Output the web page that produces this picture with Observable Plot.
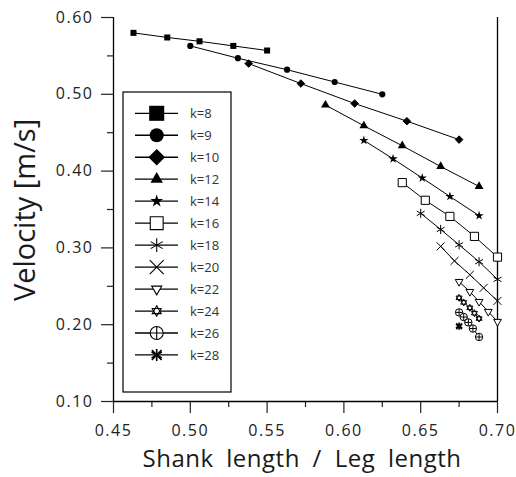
<!DOCTYPE html>
<html><head><meta charset="utf-8">
<script src="https://cdn.jsdelivr.net/npm/d3@7"></script>
<script src="https://cdn.jsdelivr.net/npm/@observablehq/plot@0.6"></script>
<style>
body{margin:0;background:#fff;}
#chart{width:516px;height:477px;}
svg text{font-family:"Open Sans",sans-serif;}
g[aria-label="x-axis tick label"] text, g[aria-label="y-axis tick label"] text{letter-spacing:1.5px;}
</style></head><body><div id="chart"></div>
<script>
// ---- data ----
const k8x  = [0.463, 0.485, 0.506, 0.528, 0.550];
const k8y  = [0.580, 0.574, 0.569, 0.563, 0.557];
const k9x  = [0.500, 0.531, 0.563, 0.594, 0.625];
const k9y  = [0.563, 0.547, 0.532, 0.516, 0.500];
const k10x = [0.538, 0.572, 0.607, 0.641, 0.675];
const k10y = [0.540, 0.514, 0.488, 0.465, 0.441];
const k12x = [0.588, 0.613, 0.638, 0.663, 0.688];
const k12y = [0.486, 0.459, 0.433, 0.406, 0.380];
const k14x = [0.613, 0.632, 0.651, 0.669, 0.688];
const k14y = [0.440, 0.416, 0.391, 0.367, 0.342];
const k16x = [0.638, 0.653, 0.669, 0.685, 0.700];
const k16y = [0.385, 0.362, 0.341, 0.315, 0.288];
const k18x = [0.650, 0.663, 0.675, 0.688, 0.700];
const k18y = [0.345, 0.324, 0.304, 0.282, 0.259];
const k20x = [0.663, 0.672, 0.682, 0.691, 0.700];
const k20y = [0.302, 0.283, 0.265, 0.248, 0.231];
const k22x = [0.675, 0.682, 0.688, 0.694, 0.700];
const k22y = [0.256, 0.243, 0.230, 0.217, 0.204];
const k24x = [0.675, 0.678, 0.682, 0.685, 0.688];
const k24y = [0.235, 0.229, 0.222, 0.215, 0.208];
const k26x = [0.675, 0.678, 0.681, 0.684, 0.688];
const k26y = [0.216, 0.210, 0.203, 0.195, 0.184];
const k28x = [0.675];
const k28y = [0.198];

const seriesLabels = ["k=8","k=9","k=10","k=12","k=14","k=16","k=18","k=20","k=22","k=24","k=26","k=28"];
const xTicks = [0.45, 0.50, 0.55, 0.60, 0.65, 0.70];
const xMinorTicks = [0.475, 0.525, 0.575, 0.625, 0.675];
const yTicks = [0.10, 0.20, 0.30, 0.40, 0.50, 0.60];
const yMinorTicks = [0.15, 0.25, 0.35, 0.45, 0.55];
const xTitle = "Shank length / Leg length";
const yTitle = "Velocity [m/s]";

// ---- styles ----
const W = "white", B = "black";
const styles = [
  [{symbol:"square", r:3.4, lr:8.5, fill:B}],
  [{symbol:"circle", r:3.1, lr:7, fill:B}],
  [{symbol:"diamond2", r:3.4, lr:6.8, fill:B, stroke:B}],
  [{symbol:"triangle", r:3.3, lr:4.6, fill:B}],
  [{symbol:"star", r:2.9, lr:4, fill:B}],
  [{symbol:"square2", r:5.2, lr:8.2, fill:W, stroke:B}],
  [{symbol:"asterisk", r:4.3, lr:6.6, stroke:B}],
  [{symbol:"times", r:3.7, lr:6.4, stroke:B}],
  [{symbol:"triangle2", r:3.7, lr:4.8, fill:W, stroke:B, rotate:180}],
  [{symbol:"triangle2", r:2.9, lr:4.3, fill:W, stroke:B}, {symbol:"triangle2", r:2.9, lr:4.3, fill:"none", stroke:B, rotate:180}],
  [{symbol:"circle", r:3.7, lr:6.5, fill:W, stroke:B}, {symbol:"plus", r:2.35, lr:4.1, stroke:B}],
  [{symbol:"asterisk", r:3.4, lr:5.6, stroke:B, sw:1.6}, {symbol:"times", r:2.7, lr:4.5, stroke:B, sw:1.6}]
];
const xs = [k8x,k9x,k10x,k12x,k14x,k16x,k18x,k20x,k22x,k24x,k26x,k28x];
const ys = [k8y,k9y,k10y,k12y,k14y,k16y,k18y,k20y,k22y,k24y,k26y,k28y];

const marks = [];
xs.forEach((xa, i) => {
  const rows = xa.map((x, j) => ({x, y: ys[i][j]}));
  marks.push(Plot.line(rows, {x:"x", y:"y", stroke:B, strokeWidth:1}));
});
xs.forEach((xa, i) => {
  const rows = xa.map((x, j) => ({x, y: ys[i][j]}));
  for (const s of styles[i]) {
    marks.push(Plot.dot(rows, {x:"x", y:"y", symbol:s.symbol, r:s.r,
      fill: s.fill || "none", stroke: s.stroke || "none", strokeWidth: s.sw || 1,
      rotate: s.rotate || 0}));
  }
});

const fmt = d3.format(".2f");
const plot = Plot.plot({
  width: 516, height: 477,
  marginLeft: 113, marginRight: 19, marginTop: 17, marginBottom: 76,
  style: {fontFamily: "Open Sans", fontSize: "16px", color: "#222", background: "white"},
  x: {domain: [0.45, 0.70], label: null},
  y: {domain: [0.10, 0.60], label: null},
  marks: [
    Plot.axisX(xTicks, {tickSize: 12, tickPadding: 11, tickFormat: fmt, label: null, strokeWidth: 1.2}),
    Plot.axisX(xMinorTicks, {tickSize: 6, tickFormat: () => "", label: null, strokeWidth: 1.2}),
    Plot.axisY(yTicks, {tickSize: 12, tickPadding: 8, tickFormat: fmt, label: null, strokeWidth: 1.2}),
    Plot.axisY(yMinorTicks, {tickSize: 6, tickFormat: () => "", label: null, strokeWidth: 1.2}),
    Plot.ruleX([0.45], {stroke: B, strokeWidth: 1.3}),
    Plot.ruleX([0.70], {stroke: B, strokeWidth: 1.3}),
    Plot.ruleY([0.10], {stroke: B, strokeWidth: 1.3}),
    ...marks
  ]
});
document.getElementById("chart").appendChild(plot);

const svg = d3.select(plot);
// axis titles
svg.append("text").attr("x", 302).attr("y", 467).attr("text-anchor", "middle")
  .style("font-size", "24px").style("word-spacing", "6px").style("letter-spacing", "0.5px")
  .attr("fill", "#1a1a1a").text(xTitle);
svg.append("text").attr("transform", "translate(35,210) rotate(-90)").attr("text-anchor", "middle")
  .style("font-size", "29px").attr("fill", "#1a1a1a").text(yTitle);

// legend
const symMap = {square:d3.symbolSquare, circle:d3.symbolCircle, diamond2:d3.symbolDiamond2,
  triangle:d3.symbolTriangle, star:d3.symbolStar, square2:d3.symbolSquare2, asterisk:d3.symbolAsterisk,
  times:d3.symbolTimes, triangle2:d3.symbolTriangle2, plus:d3.symbolPlus};
const lg = svg.append("g");
lg.append("rect").attr("x", 123).attr("y", 92).attr("width", 108).attr("height", 300)
  .attr("fill", "white").attr("stroke", B).attr("stroke-width", 1.2);
seriesLabels.forEach((lab, i) => {
  const cy = 113.3 + i * 21.97;
  lg.append("line").attr("x1", 135).attr("x2", 178).attr("y1", cy).attr("y2", cy)
    .attr("stroke", B).attr("stroke-width", 1.3);
  for (const s of styles[i]) {
    lg.append("path")
      .attr("d", d3.symbol(symMap[s.symbol], Math.PI * s.lr * s.lr)())
      .attr("transform", `translate(156.7,${cy}) rotate(${s.rotate || 0})`)
      .attr("fill", s.fill || "none").attr("stroke", s.stroke || "none")
      .attr("stroke-width", s.sw || 1.1);
  }
  lg.append("text").attr("x", 190).attr("y", cy).attr("dy", "0.35em").attr("text-anchor", "start")
    .style("font-size", "13px").attr("fill", "#333").text(lab);
});
</script></body></html>
